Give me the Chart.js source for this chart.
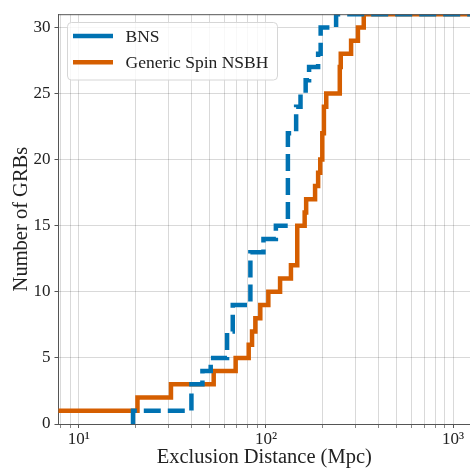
<!DOCTYPE html>
<html>
<head>
<meta charset="utf-8">
<script src="https://cdn.jsdelivr.net/npm/chart.js@4.4.0/dist/chart.umd.min.js"></script>
<style>
  html, body { margin: 0; padding: 0; background: #ffffff; overflow: hidden; }
  #wrap { position: absolute; left: 0; top: 0; width: 470px; height: 468px; }
</style>
</head>
<body>
<div id="wrap"><canvas id="c" width="470" height="468"></canvas></div>
<script>
// ---- data ----
const seriesLabels = ['BNS', 'Generic Spin NSBH'];

// cumulative step curves: count holds from each distance onward
const bnsDist  = [19.5, 19.5, 40, 45.8, 50.7, 62, 66.5, 82.6, 97, 113, 131, 145, 153, 163, 170, 190, 196, 237, 2000];
const bnsCount = [0,    1,    3,  4,    5,    7,  9,    13,   14, 15,  22,  24,  25,  26,  27,  28,  30,  31,  31];

const nsbhDist  = [6, 20.6, 31.1, 52.6, 68.9, 80.9, 84.3, 87.8, 93.3, 103, 119, 136, 147, 161, 164, 183, 190, 195, 200, 204, 210, 248, 251, 285, 310, 333, 2000];
const nsbhCount = [1, 2,    3,    4,    5,    6,    7,    8,    9,    10,  11,  12,  15,  16,  17,  18,  19,  20,  22,  24,  25,  27,  28,  29,  30,  31,  31];

const xMajorTicks = [10, 100, 1000];
const xTickLabels = ['10\u00B9', '10\u00B2', '10\u00B3'];
const yTicks = [0, 5, 10, 15, 20, 25, 30];

const xTitle = 'Exclusion Distance (Mpc)';
const yTitle = 'Number of GRBs';

// ---- styling ----
const BLUE = '#0072B2';
const ORANGE = '#D55E00';
const GRID = 'rgba(0,0,0,0.15)';
const SPINE = '#555555';
const FONT = "'Liberation Serif', 'Times New Roman', serif";

function toPoints(xs, ys) { return xs.map((x, i) => ({ x: x, y: ys[i] })); }

const topSpine = {
  id: 'topSpine',
  afterDraw(chart) {
    const a = chart.chartArea, ctx = chart.ctx;
    ctx.save();
    ctx.strokeStyle = SPINE;
    ctx.lineWidth = 1;
    ctx.beginPath();
    ctx.moveTo(a.left, a.top + 0.5);
    ctx.lineTo(a.right, a.top + 0.5);
    ctx.stroke();
    ctx.restore();
  }
};

const innerLegend = {
  id: 'innerLegend',
  afterDatasetsDraw(chart, args, o) {
    const ctx = chart.ctx;
    ctx.save();
    const r = 4, x = o.x, y = o.y, w = o.w, h = o.h;
    ctx.beginPath();
    ctx.moveTo(x + r, y);
    ctx.lineTo(x + w - r, y);
    ctx.arcTo(x + w, y, x + w, y + r, r);
    ctx.lineTo(x + w, y + h - r);
    ctx.arcTo(x + w, y + h, x + w - r, y + h, r);
    ctx.lineTo(x + r, y + h);
    ctx.arcTo(x, y + h, x, y + h - r, r);
    ctx.lineTo(x, y + r);
    ctx.arcTo(x, y, x + r, y, r);
    ctx.closePath();
    ctx.fillStyle = 'rgba(255,255,255,0.8)';
    ctx.fill();
    ctx.strokeStyle = '#d6d6d6';
    ctx.lineWidth = 1;
    ctx.stroke();
    chart.data.datasets.forEach((ds, i) => {
      const cy = o.firstY + i * o.rowH;
      ctx.strokeStyle = ds.borderColor;
      ctx.lineWidth = ds.borderWidth;
      ctx.setLineDash([]);
      ctx.lineCap = 'butt';
      ctx.beginPath();
      ctx.moveTo(o.lineX0, cy);
      ctx.lineTo(o.lineX1, cy);
      ctx.stroke();
      ctx.fillStyle = '#222';
      ctx.font = o.fontSize + 'px ' + FONT;
      ctx.textBaseline = 'middle';
      ctx.textAlign = 'left';
      ctx.fillText(ds.label, o.textX, cy + 1);
    });
    ctx.restore();
  }
};

new Chart(document.getElementById('c'), {
  type: 'line',
  data: {
    datasets: [
      {
        label: seriesLabels[0],
        data: toPoints(bnsDist, bnsCount),
        borderColor: BLUE,
        borderWidth: 4.5,
        borderDash: [17, 7],
        borderCapStyle: 'butt',
        borderJoinStyle: 'miter',
        stepped: 'before',
        pointRadius: 0,
        fill: false,
        clip: 0
      },
      {
        label: seriesLabels[1],
        data: toPoints(nsbhDist, nsbhCount),
        borderColor: ORANGE,
        borderWidth: 4.5,
        borderCapStyle: 'butt',
        borderJoinStyle: 'miter',
        stepped: 'before',
        pointRadius: 0,
        fill: false,
        clip: 0
      }
    ]
  },
  options: {
    responsive: false,
    devicePixelRatio: 1,
    animation: false,
    layout: { padding: { left: 0, right: 0, top: 13, bottom: 0 } },
    plugins: {
      legend: { display: false },
      tooltip: { enabled: false },
      innerLegend: {
        x: 67.5, y: 22.5, w: 210, h: 57.5,
        lineX0: 73, lineX1: 113, textX: 125.5,
        firstY: 36, rowH: 26.3, fontSize: 17.5
      }
    },
    scales: {
      x: {
        type: 'logarithmic',
        min: 7.8,
        max: 1230,
        afterFit(scale) { scale.height = 44; },
        afterBuildTicks(scale) {
          const vals = [];
          for (let p = 1; p <= 1000; p *= 10) {
            for (let m = 1; m <= 9; m++) {
              const v = m * p;
              if (v >= scale.min && v <= scale.max) vals.push(v);
            }
          }
          scale.ticks = vals.map(v => ({ value: v }));
        },
        grid: {
          color: GRID,
          lineWidth: 1,
          drawTicks: true,
          tickLength: 4,
          tickColor: (ctx) => (ctx.tick && xMajorTicks.includes(ctx.tick.value)) ? SPINE : '#888'
        },
        border: { display: true, color: SPINE, width: 1 },
        ticks: {
          autoSkip: false,
          maxRotation: 0,
          padding: 1,
          color: '#222',
          font: { family: FONT, size: 17 },
          callback(value) {
            const i = xMajorTicks.indexOf(value);
            return i >= 0 ? xTickLabels[i] : '';
          }
        },
        title: {
          display: true,
          text: xTitle,
          color: '#222',
          font: { family: FONT, size: 20.5 },
          padding: { top: 0, bottom: -2 }
        }
      },
      y: {
        type: 'linear',
        min: 0,
        max: 31,
        afterFit(scale) { scale.width = 58.5; },
        afterBuildTicks(scale) { scale.ticks = yTicks.map(v => ({ value: v })); },
        grid: {
          color: GRID,
          lineWidth: 1,
          drawTicks: true,
          tickLength: 4,
          tickColor: SPINE
        },
        border: { display: true, color: SPINE, width: 1 },
        ticks: {
          padding: 4,
          color: '#222',
          font: { family: FONT, size: 17 }
        },
        title: {
          display: true,
          text: yTitle,
          color: '#222',
          font: { family: FONT, size: 20.5 },
          padding: { top: 9, bottom: 0 }
        }
      }
    }
  },
  plugins: [topSpine, innerLegend]
});
</script>
</body>
</html>
